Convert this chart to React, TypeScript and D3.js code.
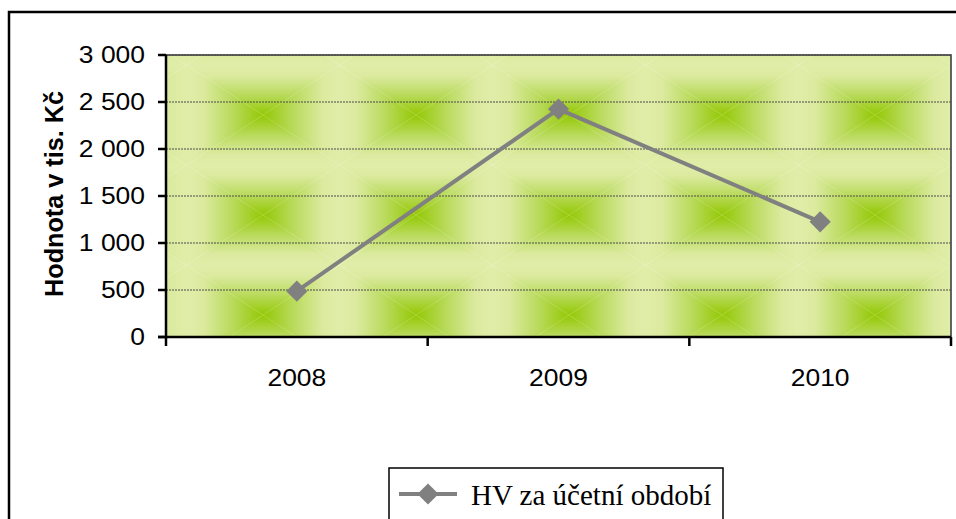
import { useEffect, useRef } from 'react';
import * as d3 from 'd3';

// data
const years = ['2008', '2009', '2010'];
const hvValues = [488, 2425, 1225];
const yTicks = [0, 500, 1000, 1500, 2000, 2500, 3000];
const seriesName = 'HV za účetní období';
const yTitle = 'Hodnota v tis. Kč';

const W = 956;
const H = 519;
const SANS = 'Liberation Sans, Arial, sans-serif';
const STRETCH = 1.15; // the original looks horizontally stretched

export default function App() {
  const svgRef = useRef<SVGSVGElement>(null);

  useEffect(() => {
    if (!svgRef.current) return;
    const svg = d3.select(svgRef.current);
    svg.selectAll('*').remove();

    const left = 166, right = 951, top = 55, bottom = 337;

    const x = d3.scaleBand<string>().domain(years).range([left, right]).padding(0);
    const y = d3.scaleLinear().domain([0, 3000]).range([bottom, top]);

    // tiled "from centre" gradient background
    const defs = svg.append('defs');
    const tw = 153, th = 100;
    const mkGrad = (id: string, x1: number, y1: number, x2: number, y2: number) => {
      const g = defs.append('linearGradient')
        .attr('id', id)
        .attr('gradientUnits', 'userSpaceOnUse')
        .attr('x1', x1).attr('y1', y1).attr('x2', x2).attr('y2', y2);
      g.append('stop').attr('offset', 0).attr('stop-color', '#e0eda9');
      g.append('stop').attr('offset', 0.22).attr('stop-color', '#dbea9f');
      g.append('stop').attr('offset', 0.6).attr('stop-color', '#b9da5c');
      g.append('stop').attr('offset', 1).attr('stop-color', '#94c804');
    };
    mkGrad('gTop', 0, 0, 0, th / 2);
    mkGrad('gBot', 0, th, 0, th / 2);
    mkGrad('gLeft', 0, 0, tw / 2, 0);
    mkGrad('gRight', tw, 0, tw / 2, 0);

    const pat = defs.append('pattern')
      .attr('id', 'bgPat')
      .attr('patternUnits', 'userSpaceOnUse')
      .attr('x', 263 - tw / 2).attr('y', 115 - th / 2)
      .attr('width', tw).attr('height', th);
    const cx = tw / 2, cy = th / 2;
    pat.append('path').attr('d', `M0,0L${tw},0L${cx},${cy}Z`).attr('fill', 'url(#gTop)');
    pat.append('path').attr('d', `M0,${th}L${tw},${th}L${cx},${cy}Z`).attr('fill', 'url(#gBot)');
    pat.append('path').attr('d', `M0,0L0,${th}L${cx},${cy}Z`).attr('fill', 'url(#gLeft)');
    pat.append('path').attr('d', `M${tw},0L${tw},${th}L${cx},${cy}Z`).attr('fill', 'url(#gRight)');

    svg.append('rect').attr('width', W).attr('height', H).attr('fill', '#fff');

    // chart border
    svg.append('rect')
      .attr('x', 9).attr('y', 12)
      .attr('width', W + 20).attr('height', H + 20)
      .attr('fill', 'none').attr('stroke', '#000').attr('stroke-width', 2.5);

    // plot area
    svg.append('rect')
      .attr('x', left).attr('y', top)
      .attr('width', right - left).attr('height', bottom - top)
      .attr('fill', 'url(#bgPat)')
      .attr('stroke', '#333').attr('stroke-width', 1.5);

    // gridlines
    svg.append('g').selectAll('line')
      .data(yTicks.filter(d => d > 0))
      .enter()
      .append('line')
      .attr('x1', left).attr('x2', right)
      .attr('y1', d => y(d)).attr('y2', d => y(d))
      .attr('stroke', '#4a4a4a')
      .attr('stroke-width', 1)
      .attr('stroke-dasharray', '2,1');

    // y axis
    const fmt = (d: number) => d3.format(',')(d).replace(/,/g, ' ');
    const yAxis = svg.append('g').attr('transform', `translate(${left},0)`);
    yAxis.append('line')
      .attr('y1', top).attr('y2', bottom)
      .attr('stroke', '#000').attr('stroke-width', 2.5);
    yAxis.selectAll('.yt')
      .data(yTicks)
      .enter()
      .append('line')
      .attr('x1', -8).attr('x2', 0)
      .attr('y1', d => y(d)).attr('y2', d => y(d))
      .attr('stroke', '#000').attr('stroke-width', 2.5);
    yAxis.selectAll('.yl')
      .data(yTicks)
      .enter()
      .append('text')
      .attr('transform', d => `translate(-21,${y(d) + 8}) scale(${STRETCH},1)`)
      .attr('text-anchor', 'end')
      .attr('font-family', SANS)
      .attr('font-size', 23)
      .text(d => fmt(d));

    // x axis
    const xAxis = svg.append('g').attr('transform', `translate(0,${bottom})`);
    xAxis.append('line')
      .attr('x1', left - 8).attr('x2', right)
      .attr('stroke', '#000').attr('stroke-width', 2.5);
    const bounds = [...years.map(d => x(d) as number), right];
    xAxis.selectAll('.xt')
      .data(bounds)
      .enter()
      .append('line')
      .attr('x1', d => d).attr('x2', d => d)
      .attr('y1', 0).attr('y2', 9)
      .attr('stroke', '#000').attr('stroke-width', 2.5);
    xAxis.selectAll('.xl')
      .data(years)
      .enter()
      .append('text')
      .attr('transform', d => `translate(${(x(d) as number) + x.bandwidth() / 2},49) scale(${STRETCH},1)`)
      .attr('text-anchor', 'middle')
      .attr('font-family', SANS)
      .attr('font-size', 23)
      .text(d => d);

    // y title
    svg.append('text')
      .attr('transform', `translate(63,${(top + bottom) / 2 - 2}) rotate(-90) scale(1.03,1.05)`)
      .attr('text-anchor', 'middle')
      .attr('font-family', SANS)
      .attr('font-size', 24.5)
      .attr('font-weight', 700)
      .text(yTitle);

    // series
    const pts = years.map((d, i) => [(x(d) as number) + x.bandwidth() / 2, y(hvValues[i])] as [number, number]);
    svg.append('path')
      .attr('d', d3.line()(pts))
      .attr('fill', 'none')
      .attr('stroke', '#808080')
      .attr('stroke-width', 4);
    const diamond = d3.symbol().type(d3.symbolSquare).size(225);
    svg.append('g').selectAll('path')
      .data(pts)
      .enter()
      .append('path')
      .attr('d', diamond())
      .attr('transform', d => `translate(${d[0]},${d[1]}) rotate(45)`)
      .attr('fill', '#808080');

    // legend
    const lg = svg.append('g');
    lg.append('rect')
      .attr('x', 389).attr('y', 468)
      .attr('width', 334).attr('height', 60)
      .attr('fill', '#fff').attr('stroke', '#000').attr('stroke-width', 1.5);
    lg.append('line')
      .attr('x1', 399).attr('x2', 457).attr('y1', 494).attr('y2', 494)
      .attr('stroke', '#808080').attr('stroke-width', 4);
    lg.append('path')
      .attr('d', diamond())
      .attr('transform', 'translate(428,494) rotate(45)')
      .attr('fill', '#808080');
    lg.append('text')
      .attr('x', 471).attr('y', 505)
      .attr('font-family', 'Liberation Serif, Times New Roman, serif')
      .attr('font-size', 29)
      .text(seriesName);
  }, []);

  return (
    <svg
      ref={svgRef}
      width={W}
      height={H}
      style={{ position: 'absolute', left: 0, top: 0, display: 'block' }}
    />
  );
}
